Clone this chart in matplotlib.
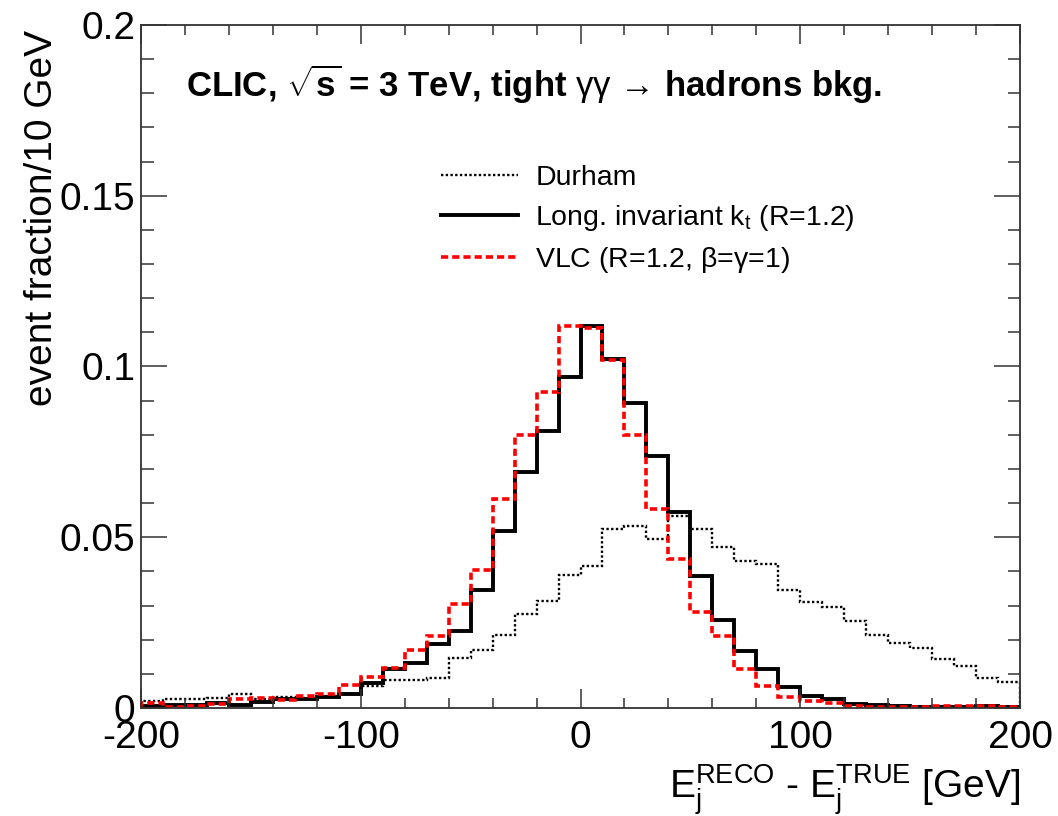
import numpy as np
import matplotlib
matplotlib.use("Agg")
import matplotlib.pyplot as plt
from matplotlib.ticker import MultipleLocator, FormatStrFormatter

plt.rcParams['font.family'] = ['Liberation Sans', 'DejaVu Sans']
plt.rcParams['mathtext.fontset'] = 'custom'
plt.rcParams['mathtext.rm'] = 'Liberation Sans'
plt.rcParams['mathtext.it'] = 'Liberation Sans:italic'
plt.rcParams['mathtext.bf'] = 'Liberation Sans:bold'
plt.rcParams['axes.unicode_minus'] = False

# 10 GeV bins from -200 to 200 GeV
bin_lo = -200
bin_hi = 200
bin_w = 10

# event fraction per bin
durham = [0.0020, 0.0025, 0.0025, 0.0030, 0.0042, 0.0027, 0.0033, 0.0030, 0.0035, 0.0040,
          0.0064, 0.0083, 0.0083, 0.0088, 0.0147, 0.0171, 0.0215, 0.0274, 0.0313, 0.0389,
          0.0416, 0.0524, 0.0533, 0.0494, 0.0563, 0.0524, 0.0470, 0.0431, 0.0421, 0.0346,
          0.0310, 0.0297, 0.0254, 0.0215, 0.0191, 0.0176, 0.0142, 0.0122, 0.0088, 0.0075]
kt = [0.0005, 0.0008, 0.0010, 0.0015, 0.0010, 0.0017, 0.0026, 0.0026, 0.0032, 0.0041,
      0.0073, 0.0115, 0.0132, 0.0186, 0.0225, 0.0344, 0.0517, 0.0690, 0.0810, 0.0970,
      0.1119, 0.1023, 0.0894, 0.0739, 0.0573, 0.0385, 0.0259, 0.0166, 0.0113, 0.0062,
      0.0034, 0.0027, 0.0013, 0.0010, 0.0007, 0.0004, 0.0003, 0.0003, 0.0005, 0.0003]
vlc = [0.0015, 0.0002, 0.0005, 0.0012, 0.0025, 0.0030, 0.0022, 0.0034, 0.0042, 0.0068,
       0.0090, 0.0117, 0.0171, 0.0210, 0.0303, 0.0404, 0.0612, 0.0798, 0.0925, 0.1118,
       0.1112, 0.1018, 0.0798, 0.0584, 0.0437, 0.0281, 0.0210, 0.0113, 0.0064, 0.0032,
       0.0020, 0.0015, 0.0007, 0.0003, 0.0003, 0.0003, 0.0005, 0.0005, 0.0005, 0.0003]

labels = ['Durham', r'Long. invariant k$_{\mathregular{t}}$ (R=1.2)',
          r'VLC (R=1.2, $\mathregular{\beta}$=$\mathregular{\gamma}$=1)']

edges = np.arange(bin_lo, bin_hi + bin_w, bin_w)

fig = plt.figure(figsize=(10.58, 8.16), dpi=100)
ax = fig.add_axes([0.1333, 0.1324, 0.8308, 0.8370])

ax.stairs(durham, edges, color='black', lw=1.7, linestyle=(0, (1, 1.0)), label=labels[0])
ax.stairs(kt, edges, color='black', lw=2.8, label=labels[1])
ax.stairs(vlc, edges, color='red', lw=2.6, linestyle=(0, (2, 1.1)), label=labels[2])

ax.set_xlim(bin_lo, bin_hi)
ax.set_ylim(0, 0.2)

# ROOT-like ticks
frame_col = '#333333'
for sp in ax.spines.values():
    sp.set_color(frame_col)
    sp.set_linewidth(1.3)
ax.xaxis.set_major_locator(MultipleLocator(100))
ax.xaxis.set_minor_locator(MultipleLocator(20))
ax.yaxis.set_major_locator(MultipleLocator(0.05))
ax.yaxis.set_minor_locator(MultipleLocator(0.01))
ax.yaxis.set_major_formatter(FormatStrFormatter('%g'))
ax.tick_params(axis='both', which='both', direction='in', top=True, right=True,
               color=frame_col, width=1.1, labelsize=28)
ax.tick_params(axis='x', which='major', length=14, pad=9)
ax.tick_params(axis='x', which='minor', length=7)
ax.tick_params(axis='y', which='major', length=19, pad=4)
ax.tick_params(axis='y', which='minor', length=9)

ax.set_ylabel('event fraction/10 GeV', fontsize=28, loc='top')
ax.yaxis.set_label_coords(-0.092, 0.993)
ax.set_xlabel(r'$\mathregular{E_{j}^{RECO}}$ - $\mathregular{E_{j}^{TRUE}}$ [GeV]',
              fontsize=28, loc='right')
ax.xaxis.set_label_coords(1.0, -0.08)

ax.text(0.051, 0.895, r'CLIC, $\mathregular{\sqrt{s}}$ = 3 TeV, tight $\mathrm{\gamma\gamma}$'
        ' \u2192 hadrons bkg.',
        transform=ax.transAxes, fontsize=25, fontweight='bold', va='baseline', ha='left')

ax.legend(loc='upper left', bbox_to_anchor=(0.341, 0.795), frameon=False, fontsize=20.5,
          handlelength=2.7, handletextpad=0.62, labelspacing=0.42,
          borderpad=0, borderaxespad=0)

fig.savefig('out.png', dpi=100)
